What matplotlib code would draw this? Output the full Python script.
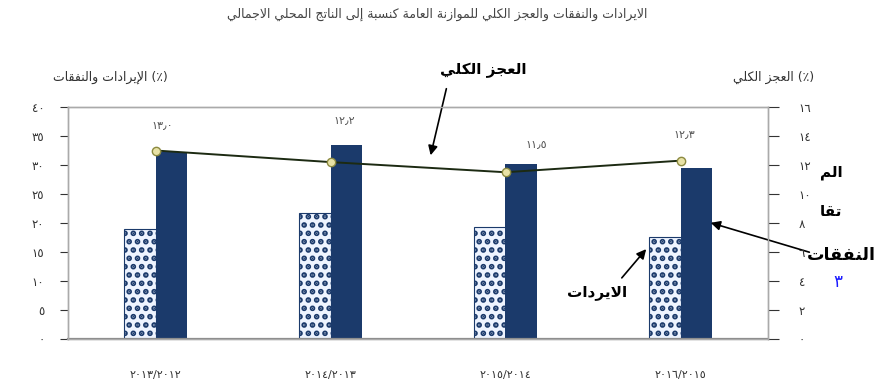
import matplotlib
matplotlib.use("Agg")
import matplotlib.pyplot as plt
import numpy as np

# --- data ---
years = ["٢٠١٣/٢٠١٢", "٢٠١٤/٢٠١٣", "٢٠١٥/٢٠١٤", "٢٠١٦/٢٠١٥"]
revenues = [19.0, 21.7, 19.3, 17.6]
expenditures = [32.2, 33.4, 30.2, 29.5]
deficit = [13.0, 12.2, 11.5, 12.3]
deficit_labels = ["١٣٫٠", "١٢٫٢", "١١٫٥", "١٢٫٣"]
left_ticks = [0, 5, 10, 15, 20, 25, 30, 35, 40]
left_ticklabels = ["٠", "٥", "١٠", "١٥", "٢٠", "٢٥", "٣٠", "٣٥", "٤٠"]
right_ticks = [0, 2, 4, 6, 8, 10, 12, 14, 16]
right_ticklabels = ["٠", "٢", "٤", "٦", "٨", "١٠", "١٢", "١٤", "١٦"]

title = "الايرادات والنفقات والعجز الكلي للموازنة العامة كنسبة إلى الناتج المحلي الاجمالي"
left_label = "الإيرادات والنفقات"
right_label = "العجز الكلي"

# --- minimal arabic shaping (presentation forms) + right-to-left order ---
_BASE = dict(zip("ءآأؤإئابةتثجحخدذرزسشصضطظعغفقكلمنهوىي",
                 [0xFE80, 0xFE81, 0xFE83, 0xFE85, 0xFE87, 0xFE89, 0xFE8D, 0xFE8F, 0xFE93,
                  0xFE95, 0xFE99, 0xFE9D, 0xFEA1, 0xFEA5, 0xFEA9, 0xFEAB, 0xFEAD, 0xFEAF,
                  0xFEB1, 0xFEB5, 0xFEB9, 0xFEBD, 0xFEC1, 0xFEC5, 0xFEC9, 0xFECD, 0xFED1,
                  0xFED5, 0xFED9, 0xFEDD, 0xFEE1, 0xFEE5, 0xFEE9, 0xFEED, 0xFEEF, 0xFEF1]))
DUAL = set("ئبتثجحخسشصضطظعغفقكلمنهي")
LAMALEF = {"ا": 0xFEFB, "أ": 0xFEF7, "إ": 0xFEF9, "آ": 0xFEF5}


def ar(text):
    res = []
    i = 0
    prev_joins = False
    while i < len(text):
        c = text[i]
        if c not in _BASE:
            res.append(c)
            prev_joins = False
            i += 1
            continue
        nxt = text[i + 1] if i + 1 < len(text) else ""
        if c == "ل" and nxt in LAMALEF:
            res.append(chr(LAMALEF[nxt] + (1 if prev_joins else 0)))
            prev_joins = False
            i += 2
            continue
        b = _BASE[c]
        nxt_letter = nxt in _BASE and nxt != "ء"
        if c in DUAL:
            if prev_joins and nxt_letter:
                f = 3
            elif prev_joins:
                f = 1
            elif nxt_letter:
                f = 2
            else:
                f = 0
            prev_joins = True
        elif c == "ء":
            f = 0
            prev_joins = False
        else:
            f = 1 if prev_joins else 0
            prev_joins = False
        res.append(chr(b + f))
        i += 1
    return "".join(res)[::-1]


plt.rcParams['font.family'] = ['DejaVu Sans']
plt.rcParams['hatch.linewidth'] = 2.8

W, H = 874, 383
fig = plt.figure(figsize=(W / 100, H / 100), dpi=100)
ax = fig.add_axes([68 / W, 1 - 339 / H, 700 / W, 232 / H])
ax2 = ax.twinx()

x = np.arange(len(years))
bw = 0.18
navy = "#1b3a6b"
ax.bar(x - bw / 2, revenues, bw, facecolor="#eef4ff", edgecolor=navy,
       hatch="..", linewidth=0.8, zorder=2)
ax.bar(x + bw / 2, expenditures, bw, color=navy, zorder=2)

ax.set_xlim(-0.5, 3.5)
ax.set_ylim(0, 40)
ax.set_yticks(left_ticks)
ax.set_yticklabels(left_ticklabels)
ax.set_xticks(x)
ax.set_xticklabels(years)
ax.tick_params(axis="x", length=0, pad=22, labelsize=8, colors="#333")
ax.tick_params(axis="y", length=6, pad=11, labelsize=8.5, colors="#333")

ax2.plot(x, deficit, color="#1c2a12", lw=1.4, marker="o", ms=6,
         mfc="#e8e2a6", mec="#8c8a40", mew=1, zorder=3)
ax2.set_ylim(0, 16)
ax2.set_yticks(right_ticks)
ax2.set_yticklabels(right_ticklabels)
ax2.tick_params(axis="y", length=8, pad=14, labelsize=8.5, colors="#333")

offsets = [(5, 18), (10, 30), (22, 20), (3, 19)]
for xi, yi, lab, off in zip(x, deficit, deficit_labels, offsets):
    ax2.annotate(lab, (xi, yi), xytext=off, textcoords="offset points",
                 ha="center", va="center", fontsize=8, color="#555")

for a in (ax, ax2):
    for s in a.spines.values():
        s.set_color("#aaa")
        s.set_linewidth(1)
ax.spines["bottom"].set_color("#888")
ax.spines["bottom"].set_linewidth(1.6)


def px(xp, yp):
    return (xp / W, 1 - yp / H)


fig.text(*px(437, 14), ar(title), ha="center", va="center", fontsize=9, color="#444")
fig.text(*px(110, 77), ar(left_label) + " (٪)", ha="center", va="center",
         fontsize=9, color="#333")
fig.text(*px(774, 77), ar(right_label) + " (٪)", ha="center", va="center",
         fontsize=9, color="#333")

bold = dict(fontsize=11, fontweight="bold", color="black", ha="center", va="center")
arrow = dict(arrowstyle="-|>", color="black", lw=1.2, mutation_scale=14)
fig.text(*px(483, 70), ar("العجز الكلي"), **bold)
ax.annotate("", xy=px(430, 158), xytext=px(447, 86), xycoords="figure fraction",
            textcoords="figure fraction", arrowprops=arrow)
fig.text(*px(841, 255), ar("النفقات"), fontsize=12.5, fontweight="bold",
         color="black", ha="center", va="center")
ax.annotate("", xy=px(708, 222), xytext=px(812, 253), xycoords="figure fraction",
            textcoords="figure fraction", arrowprops=arrow)
fig.text(*px(597, 292), ar("الايردات"), **bold)
ax.annotate("", xy=px(648, 247), xytext=px(620, 280), xycoords="figure fraction",
            textcoords="figure fraction", arrowprops=arrow)
fig.text(*px(831, 172), ar("الم"), **bold)
fig.text(*px(831, 212), ar("تقا"), **bold)
fig.text(*px(838, 282), "٣", fontsize=12, color="#1a1aff", ha="center", va="center")

fig.savefig("out.png", dpi=100)
